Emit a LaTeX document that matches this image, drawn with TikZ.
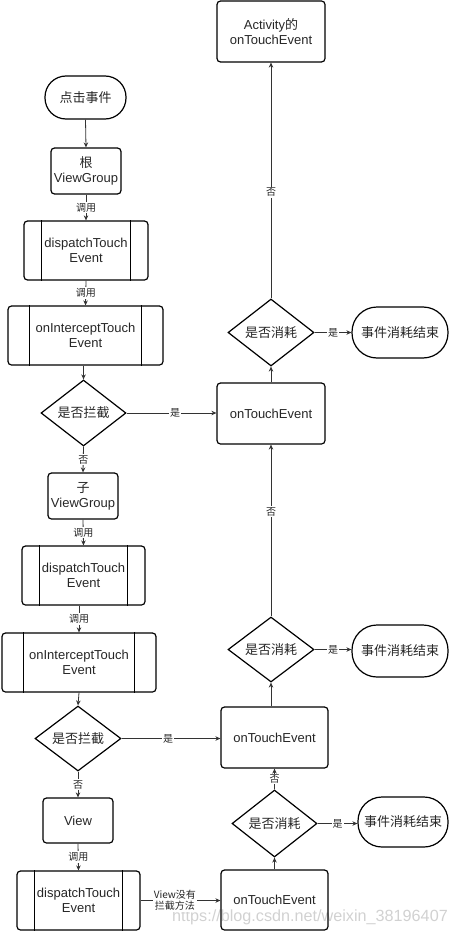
\documentclass[tikz,border=0pt]{standalone}
\usepackage{fontspec}
\setmainfont{Liberation Sans}
\newfontfamily\cjk{Noto Sans CJK SC}
\usetikzlibrary{shapes.geometric,arrows.meta}
\begin{document}
\begin{tikzpicture}[x=1pt,y=-1pt,
  every node/.style={font=\fontsize{13}{15}\selectfont, text=black!85},
  box/.style={draw=black, line width=1.2pt, rounded corners=3.5pt, align=center, inner sep=0pt},
  dec/.style={draw=black, line width=1.2pt, diamond, inner sep=0pt, aspect=1.3},
  conn/.style={draw=black!80, line width=0.8pt, -{Stealth[length=5pt,width=4.5pt]}},
  lab/.style={fill=white, inner sep=1pt, font=\cjk\fontsize{10}{11}\selectfont, align=center},
  bar/.style={draw=black, line width=1.2pt},
]
\useasboundingbox (0,0) rectangle (455,931);

% watermark (behind the labels)
\node[anchor=base west, text=black!18, font=\fontsize{16.2}{16.2}\selectfont, inner sep=0pt] (wm) at (172,921) {https://blog.csdn.net/weixin\_38196407};

% left column
\node[box, rounded corners=21pt, minimum width=81pt, minimum height=43pt] (start) at (85.5,97.5) {\cjk 点击事件};
\node[box, minimum width=70pt, minimum height=46pt] (root) at (86,171) {{\cjk 根}\\ViewGroup};
\node[box, minimum width=124pt, minimum height=59pt] (d1) at (86,250.5) {dispatchTouch\\Event};
\node[box, minimum width=155pt, minimum height=59pt] (i1) at (85.5,335.5) {onInterceptTouch\\Event};
\node[dec, minimum width=85pt, minimum height=66pt] (q1) at (83.5,413) {\cjk 是否拦截};
\node[box, minimum width=70pt, minimum height=46pt] (sub) at (83,496) {{\cjk 子}\\ViewGroup};
\node[box, minimum width=123pt, minimum height=59pt] (d2) at (83.5,575.5) {dispatchTouch\\Event};
\node[box, minimum width=154pt, minimum height=59pt] (i2) at (79,662.5) {onInterceptTouch\\Event};
\node[dec, minimum width=86pt, minimum height=65pt] (q2) at (78,738.5) {\cjk 是否拦截};
\node[box, minimum width=70pt, minimum height=45pt] (view) at (78,820.5) {View};
\node[box, minimum width=123pt, minimum height=59pt] (d3) at (78.5,900.5) {dispatchTouch\\Event};

% right column
\node[box, minimum width=108pt, minimum height=61pt] (act) at (271,31.5) {Activity{\cjk 的}\\onTouchEvent};
\node[dec, minimum width=86pt, minimum height=67pt] (c1) at (271,332.5) {\cjk 是否消耗};
\node[box, rounded corners=25pt, minimum width=96pt, minimum height=51pt] (e1) at (400,332.5) {\cjk 事件消耗结束};
\node[box, minimum width=108pt, minimum height=61pt] (t1) at (271,413.5) {onTouchEvent};
\node[dec, minimum width=86pt, minimum height=65pt] (c2) at (271,649.5) {\cjk 是否消耗};
\node[box, rounded corners=25pt, minimum width=96pt, minimum height=52pt] (e2) at (400,651) {\cjk 事件消耗结束};
\node[box, minimum width=107pt, minimum height=61pt] (t2) at (274.5,737.5) {onTouchEvent};
\node[dec, minimum width=85pt, minimum height=67pt] (c3) at (274.5,823.5) {\cjk 是否消耗};
\node[box, rounded corners=24pt, minimum width=90pt, minimum height=50pt] (e3) at (403,822) {\cjk 事件消耗结束};
\node[box, minimum width=107pt, minimum height=60pt] (t3) at (274.5,900) {onTouchEvent};

% side bars of process boxes
\foreach \n/\o in {d1/18, i1/22, d2/18, i2/22, d3/18} {
  \draw[bar] ([xshift=\o pt]\n.north west) -- ([xshift=\o pt]\n.south west);
  \draw[bar] ([xshift=-\o pt]\n.north east) -- ([xshift=-\o pt]\n.south east);
}

% left connectors
\draw[conn] (start.south) -- (root.north);
\draw[conn] (root.south) -- node[lab]{调用} (d1.north);
\draw[conn] (d1.south) -- node[lab]{调用} (i1.north);
\draw[conn] (i1.south -| q1.north) -- (q1.north);
\draw[conn] (q1.south) -- node[lab]{否} (sub.north);
\draw[conn] (sub.south) -- node[lab]{调用} (d2.north);
\draw[conn] (d2.south -| i2.north) -- node[lab]{调用} (i2.north);
\draw[conn] (i2.south) -- (q2.north);
\draw[conn] (q2.south) -- node[lab]{否} (view.north);
\draw[conn] (view.south) -- node[lab]{调用} (d3.north);
\draw[conn] (d3.east) -- node[lab, pos=0.43]{View没有\\拦截方法} (d3.east -| t3.west);

% cross connectors
\draw[conn] (q1.east) -- node[lab, pos=0.54]{是} (q1.east -| t1.west);
\draw[conn] (q2.east) -- node[lab, pos=0.47]{是} (q2.east -| t2.west);

% right connectors
\draw[conn] (t3.north) -- (c3.south);
\draw[conn] (c3.east) -- node[lab]{是} (c3.east -| e3.west);
\draw[conn] (c3.north) -- node[lab]{否} (t2.south);
\draw[conn] (t2.north -| c2.south) -- (c2.south);
\draw[conn] (c2.east) -- node[lab]{是} (c2.east -| e2.west);
\draw[conn] (c2.north) -- node[lab, pos=0.61]{否} (t1.south);
\draw[conn] (t1.north) -- (c1.south);
\draw[conn] (c1.east) -- node[lab]{是} (c1.east -| e1.west);
\draw[conn] (c1.north) -- node[lab, pos=0.45]{否} (act.south);
\end{tikzpicture}
\end{document}
